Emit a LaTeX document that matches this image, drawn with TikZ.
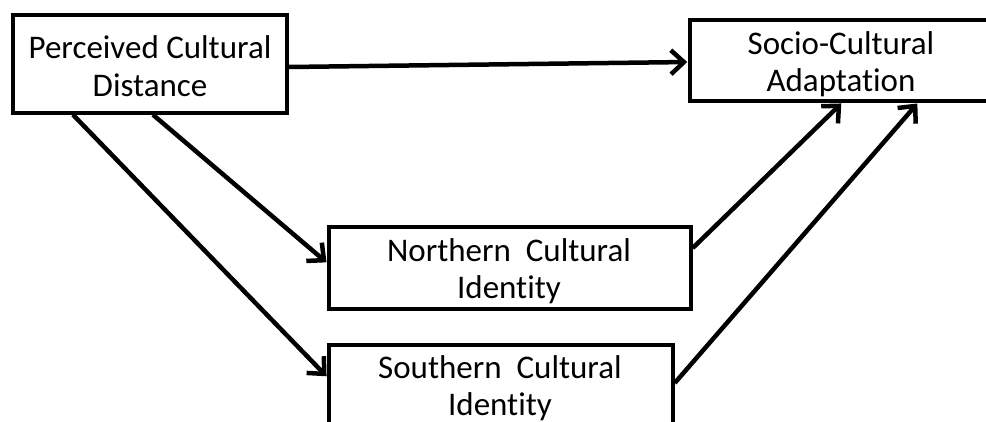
\documentclass[tikz,border=0pt]{standalone}
\usepackage{fontspec}
\setmainfont[RawFeature={-liga;-clig;-dlig;-calt}]{Carlito}
\usetikzlibrary{arrows.meta}
\tikzset{
  box/.style={draw=black, line width=3.5pt, fill=white, inner sep=0pt},
  lbl/.style={inner sep=0pt, align=center, font=\fontsize{33}{37.5}\selectfont, text=black},
  conn/.style={line width=4.5pt, -{Straight Barb[length=13pt,width=24pt,line width=4.5pt]}, shorten >=1pt}
}
\begin{document}
\begin{tikzpicture}[x=1pt,y=-1pt]
\useasboundingbox (0,0) rectangle (986,421);
\clip (0,0) rectangle (986,421);
\node[box, minimum width=274pt, minimum height=98pt] (b1) at (150,64) {};
\node[box, minimum width=302pt, minimum height=81pt] (b2) at (841,60.5) {};
\node[box, minimum width=362pt, minimum height=82pt] (b3) at (510,268) {};
\node[box, minimum width=344pt, minimum height=82pt] (b4) at (501,386) {};
\node[lbl] (t1) at (150,66) {Perceived Cultural\\Distance};
\node[lbl] (t2) at (841,64) {Socio-Cultural\\Adaptation};
\node[lbl] (t3) at (509,271) {Northern\ \ Cultural\\Identity};
\node[lbl] (t4) at (500,388) {Southern\ \ Cultural\\Identity};
\draw[conn] ([yshift=-3pt]b1.east) -- ([yshift=-1.5pt]b2.west);
\draw[conn] ([xshift=3pt]b1.south) -- ([yshift=5pt]b3.west);
\draw[conn] ([xshift=-77pt]b1.south) -- ([yshift=9pt]b4.west);
\draw[conn] ([yshift=20pt]b3.east) -- ([xshift=1pt]b2.south);
\draw[conn] ([yshift=3pt]b4.east) -- ([xshift=77pt]b2.south);
\end{tikzpicture}
\end{document}
